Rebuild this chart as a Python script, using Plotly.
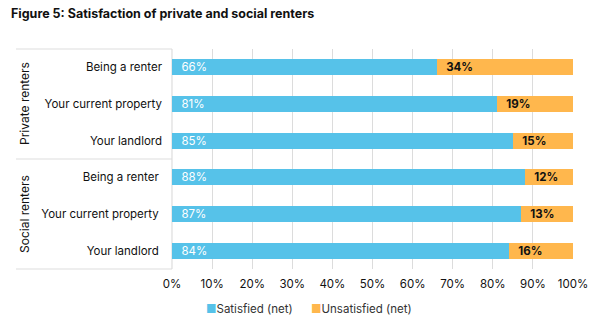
import plotly.graph_objects as go

categories = ["Being a renter", "Your current property", "Your landlord",
              "Being a renter ", "Your current property ", "Your landlord "]
groups = ["Private renters", "Social renters"]
series_names = ["Satisfied (net)", "Unsatisfied (net)"]
satisfied = [66, 81, 85, 88, 87, 84]
unsatisfied = [34, 19, 15, 12, 13, 16]
x_ticks = [0, 10, 20, 30, 40, 50, 60, 70, 80, 90, 100]
x_tick_labels = [f"{v}%" for v in x_ticks]

BLUE = "#56C2E9"
ORANGE = "#FFB74D"
FONT = "Inter"
PAD = "\u00a0\u00a0"

fig = go.Figure()
fig.add_trace(go.Bar(
    y=categories, x=satisfied, orientation="h", name=series_names[0],
    marker=dict(color=BLUE, line=dict(width=0)),
    text=[f"{PAD}{v}%" for v in satisfied], textposition="inside",
    insidetextanchor="start", constraintext="none", textangle=0,
    textfont=dict(color="white", size=11.5, family=FONT),
    hoverinfo="skip", showlegend=False,
))
fig.add_trace(go.Bar(
    y=categories, x=unsatisfied, orientation="h", name=series_names[1],
    marker=dict(color=ORANGE, line=dict(width=0)),
    text=[f"{PAD}<b>{v}%</b>" for v in unsatisfied], textposition="inside",
    insidetextanchor="start", constraintext="none", textangle=0,
    textfont=dict(color="#111111", size=11.5, family=FONT),
    hoverinfo="skip", showlegend=False,
))

L, R, T, B = 172, 25, 49, 59
W, H = 598, 328
pw = W - L - R
ph = H - T - B

def px_to_paper_x(px):
    return (px - L) / pw

def px_to_paper_y(py):
    return (H - B - py) / ph

shapes = []
box_left = px_to_paper_x(16)
for yy in [0, 0.5, 1]:
    shapes.append(dict(type="line", xref="paper", yref="paper",
                       x0=box_left, x1=0, y0=yy, y1=yy,
                       line=dict(color="#DDDDDD", width=1.2), layer="below"))
shapes.append(dict(type="line", xref="paper", yref="paper",
                   x0=0, x1=0, y0=0, y1=1,
                   line=dict(color="#DDDDDD", width=1.2), layer="below"))

annotations = []
for i, g in enumerate(groups):
    annotations.append(dict(
        text=g, xref="paper", yref="paper",
        x=px_to_paper_x(24), y=0.75 - 0.5 * i,
        textangle=-90, showarrow=False, xanchor="center", yanchor="middle",
        font=dict(size=12, color="#111111", family=FONT)))
annotations.append(dict(
    text="<b>Figure 5: Satisfaction of private and social renters</b>",
    xref="paper", yref="paper", x=px_to_paper_x(9), y=px_to_paper_y(14),
    xanchor="left", yanchor="middle", showarrow=False,
    font=dict(size=12.5, color="#111111", family=FONT)))
# manual legend
for name, color, xpx in [(series_names[0], BLUE, 204), (series_names[1], ORANGE, 309)]:
    annotations.append(dict(
        text=f"<span style='color:{color}'>■</span>{name}",
        xref="paper", yref="paper", x=px_to_paper_x(xpx), y=px_to_paper_y(309),
        xanchor="left", yanchor="middle", showarrow=False,
        font=dict(size=11.5, color="#333333", family=FONT)))

fig.update_layout(
    width=W, height=H,
    margin=dict(l=L, r=R, t=T, b=B, pad=0, autoexpand=False),
    barmode="stack", bargap=0.555,
    plot_bgcolor="white", paper_bgcolor="white",
    font=dict(family=FONT, color="#111111", size=11.5),
    showlegend=False,
    shapes=shapes, annotations=annotations,
)
fig.update_xaxes(range=[0, 100], tickvals=x_ticks, ticktext=x_tick_labels,
                 showgrid=True, gridcolor="#DCDCDC", gridwidth=1,
                 zeroline=False, showline=False, ticklabelstandoff=6,
                 tickfont=dict(size=11.5, color="#111111", family=FONT),
                 fixedrange=True)
fig.update_yaxes(autorange="reversed", showgrid=False, showline=False,
                 ticks="", ticklabelstandoff=9,
                 tickfont=dict(size=11.5, color="#111111", family=FONT),
                 fixedrange=True)

fig.write_html("out.html")
